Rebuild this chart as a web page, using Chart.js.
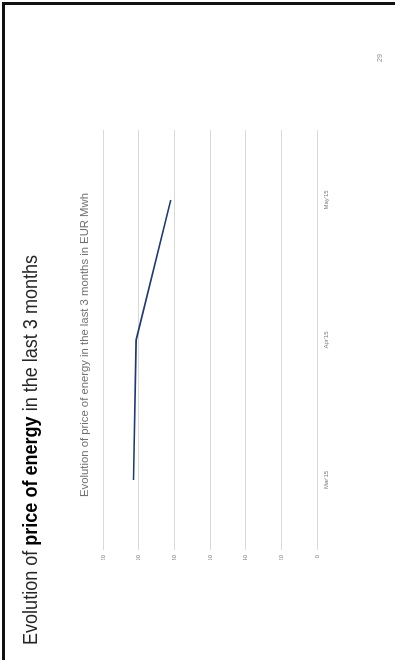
<!DOCTYPE html>
<html>
<head>
<meta charset="utf-8">
<script src="https://cdn.jsdelivr.net/npm/chart.js@4.4.1/dist/chart.umd.min.js"></script>
<style>
  html, body { margin: 0; padding: 0; width: 395px; height: 660px; overflow: hidden; background: #fff; }
  #frame { position: absolute; left: 2px; top: 2px; width: 400px; height: 670px;
           border-left: 3px solid #111; border-top: 3px solid #111; box-sizing: border-box; }
  /* the slide is laid out landscape and turned a quarter anticlockwise */
  #slide { position: absolute; left: 0; top: 0; width: 660px; height: 395px;
           transform-origin: 0 0; transform: translate(0, 660px) rotate(-90deg);
           filter: blur(0.35px); }
  #heading { position: absolute; left: 15px; top: 19px; white-space: nowrap;
             font-family: "Liberation Sans Narrow", "Liberation Sans", sans-serif;
             font-size: 21px; line-height: 21px; color: #262626; transform-origin: 0 0; }
  #heading b { color: #000; }
  #page { position: absolute; left: 598px; top: 376px; font: 7px "Liberation Sans", sans-serif; color: #8a8a8a; }
  #chart { position: absolute; left: 0; top: 0; }
</style>
</head>
<body>
<div id="frame"></div>
<div id="slide">
  <div id="heading">Evolution of <b>price of energy</b> in the last 3 months</div>
  <canvas id="chart" width="660" height="395"></canvas>
  <div id="page">29</div>
</div>
<script>
// Monthly energy price, EUR/MWh
const months = ["Mar'15", "Apr'15", "May'15"];
const pricesEurMwh = [102.9, 101.4, 82.0];
const valueTicks = [0, 20, 40, 60, 80, 100, 120];
const chartTitle = "Evolution of price of energy in the last 3 months in EUR Mwh";

// stretch the heading to its fixed run length on the slide
const heading = document.getElementById('heading');
heading.style.transform = 'scaleX(' + (390 / heading.offsetWidth) + ')';

// size the chart title so it spans a fixed width
const titleFamily = '"Liberation Sans Narrow", "Liberation Sans", sans-serif';
const probe = document.createElement('canvas').getContext('2d');
probe.font = '10px ' + titleFamily;
const titleSize = 10 * 304 / probe.measureText(chartTitle).width;
const titleLine = titleSize * 1.2;
const padTop = 70, titleGapTop = 8, plotTop = 103;

const tickFont = { family: '"Liberation Sans", sans-serif', size: 6 };

new Chart(document.getElementById('chart'), {
  type: 'line',
  data: {
    labels: months,
    datasets: [{
      data: pricesEurMwh,
      borderColor: '#1f3a75',
      borderWidth: 1.6,
      pointRadius: 0,
      tension: 0,
      fill: false
    }]
  },
  options: {
    responsive: false,
    animation: false,
    devicePixelRatio: 1,
    layout: { padding: { left: 100, right: 130, top: padTop, bottom: 58 } },
    plugins: {
      legend: { display: false },
      tooltip: { enabled: false },
      title: {
        display: true,
        text: chartTitle,
        color: '#707070',
        font: { family: titleFamily, size: titleSize, weight: 'normal', lineHeight: 1.2 },
        padding: { top: titleGapTop, bottom: plotTop - padTop - titleGapTop - titleLine }
      }
    },
    scales: {
      x: {
        type: 'category',
        offset: true,
        grid: { display: false, drawTicks: false },
        border: { display: false },
        ticks: { color: '#7f7f7f', font: tickFont, padding: 6, maxRotation: 0, autoSkip: false },
        afterFit: s => { s.height = 20; }
      },
      y: {
        min: 0,
        max: 120,
        afterBuildTicks: s => { s.ticks = valueTicks.map(v => ({ value: v })); },
        grid: { color: '#d9d9d9', lineWidth: 1, drawTicks: false },
        border: { display: false },
        ticks: { color: '#7f7f7f', font: tickFont, padding: 5 },
        afterFit: s => { s.width = 10; }
      }
    }
  }
});
</script>
</body>
</html>
